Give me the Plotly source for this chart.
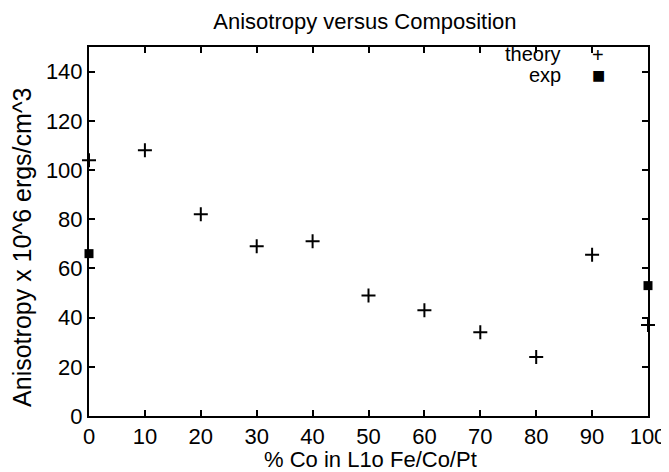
import plotly.graph_objects as go

theory_x = [0, 10, 20, 30, 40, 50, 60, 70, 80, 90, 100]
theory_y = [104, 108, 82, 69, 71, 49, 43, 34, 24, 65.5, 37]
exp_x = [0, 100]
exp_y = [66, 53]
x_ticks = [0, 10, 20, 30, 40, 50, 60, 70, 80, 90, 100]
y_ticks = [0, 20, 40, 60, 80, 100, 120, 140]

FONT = "Liberation Sans, Arial, sans-serif"

fig = go.Figure()
fig.add_trace(go.Scatter(
    x=theory_x, y=theory_y, mode="markers", name="theory",
    marker=dict(symbol="cross-thin", size=10, line=dict(color="black", width=2), color="black"),
    cliponaxis=False, showlegend=False))
fig.add_trace(go.Scatter(
    x=exp_x, y=exp_y, mode="markers", name="exp",
    marker=dict(symbol="square", size=9, color="black"),
    cliponaxis=False, showlegend=False))

axis_common = dict(
    showgrid=False, zeroline=False, showline=True, linecolor="black", linewidth=2,
    mirror="allticks", ticks="inside", ticklen=6, tickwidth=1.5, tickcolor="black",
    tickfont=dict(family=FONT, size=22, color="black"), automargin=False,
)

fig.update_xaxes(range=[0, 100], tickvals=x_ticks, ticktext=[str(v) for v in x_ticks], **axis_common)
fig.update_yaxes(range=[0, 150], tickvals=y_ticks, ticktext=[str(v) for v in y_ticks], **axis_common)

fig.update_layout(
    width=661, height=464,
    margin=dict(l=81, r=21, t=39, b=56),
    plot_bgcolor="white", paper_bgcolor="white",
    title=dict(text="Anisotropy versus Composition", x=0.540, xanchor="center", y=0.972, yanchor="middle",
               font=dict(family=FONT, size=22, color="black")),
    annotations=[
        dict(text="Anisotropy x 10^6 ergs/cm^3", xref="paper", yref="paper", x=-0.12, y=0.458,
             xanchor="center", yanchor="middle", textangle=-90,
             showarrow=False, font=dict(family=FONT, size=25, color="black")),
        dict(text="% Co in L1o Fe/Co/Pt", xref="paper", yref="paper", x=0.503, y=-0.117,
             xanchor="center", yanchor="middle",
             showarrow=False, font=dict(family=FONT, size=22, color="black")),
        dict(text="theory", xref="paper", yref="paper", x=0.848, y=0.982, xanchor="right", yanchor="middle",
             showarrow=False, font=dict(family=FONT, size=20, color="black")),
        dict(text="exp", xref="paper", yref="paper", x=0.848, y=0.925, xanchor="right", yanchor="middle",
             showarrow=False, font=dict(family=FONT, size=20, color="black")),
        dict(text="+", xref="paper", yref="paper", x=0.911, y=0.978, xanchor="center", yanchor="middle",
             showarrow=False, font=dict(family=FONT, size=20, color="black")),
        dict(text="■", xref="paper", yref="paper", x=0.911, y=0.925, xanchor="center", yanchor="middle",
             showarrow=False, font=dict(family="DejaVu Sans", size=14, color="black")),
    ],
)

fig.write_html("out.html")
